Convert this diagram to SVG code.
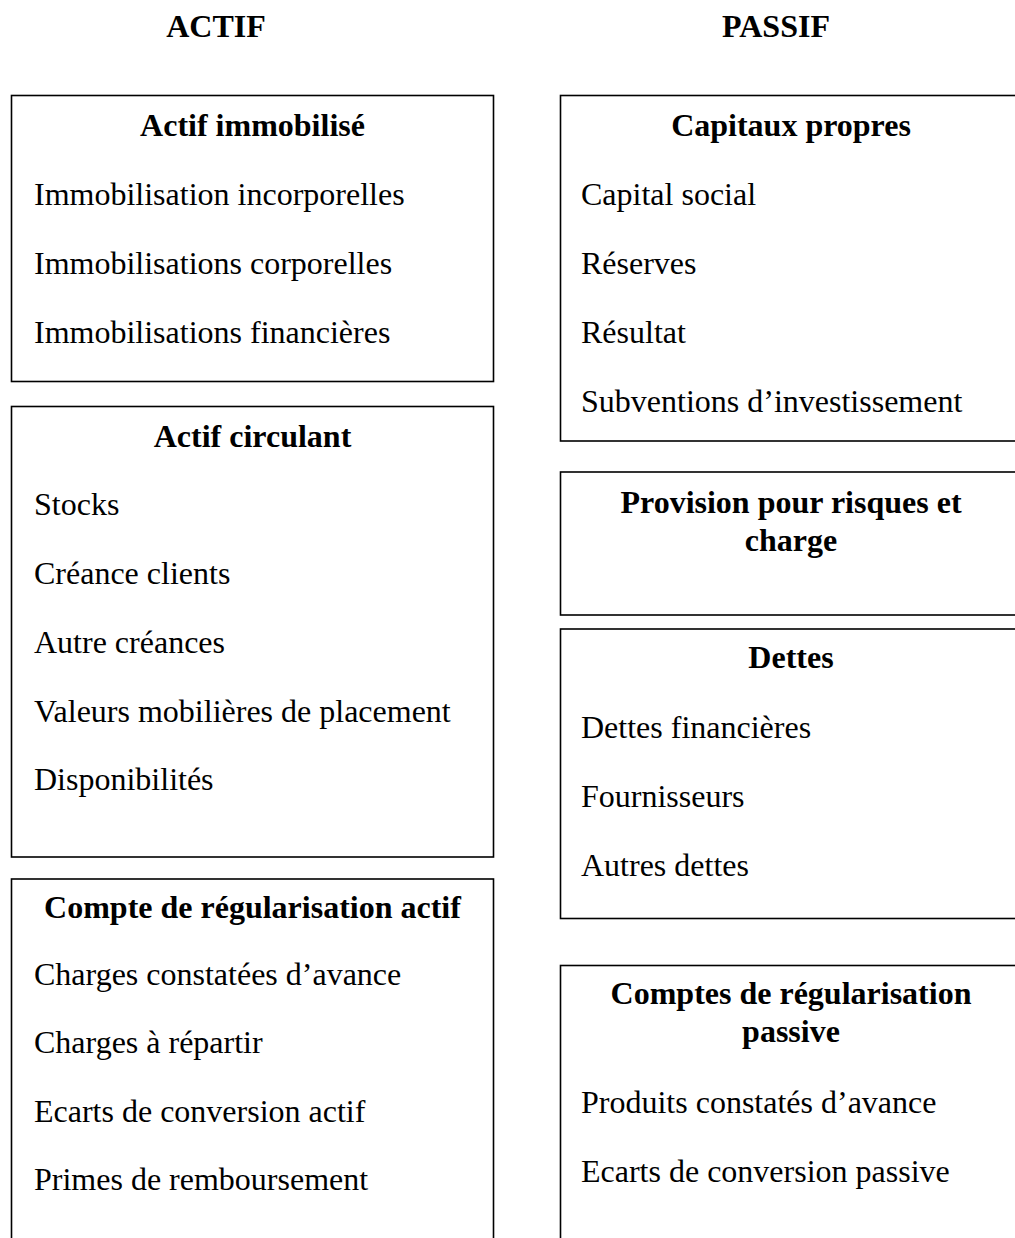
<svg xmlns="http://www.w3.org/2000/svg" width="1015" height="1238" viewBox="0 0 1015 1238">
<style>
  .box { fill: #ffffff; stroke: #000000; stroke-width: 1.6; }
  text { font-family: "Liberation Serif", "Times New Roman", serif; font-size: 32px; fill: #000000; }
  .h { font-weight: bold; text-anchor: middle; }
</style>
<rect x="0" y="0" width="1015" height="1238" fill="#ffffff"/>
<g id="titles">
  <text class="h" x="216" y="37">ACTIF</text>
  <text class="h" x="776" y="37">PASSIF</text>
</g>
<g id="connectors"></g>
<g id="actif-immobilise">
  <rect class="box" x="11.5" y="95.5" width="482" height="286"/>
  <text class="h" x="252.5" y="136">Actif immobilisé</text>
  <text x="34" y="205">Immobilisation incorporelles</text>
  <text x="34" y="274">Immobilisations corporelles</text>
  <text x="34" y="343">Immobilisations financières</text>
</g>
<g id="actif-circulant">
  <rect class="box" x="11.5" y="406.5" width="482" height="450.5"/>
  <text class="h" x="252.5" y="447">Actif circulant</text>
  <text x="34" y="515">Stocks</text>
  <text x="34" y="584">Créance clients</text>
  <text x="34" y="653">Autre créances</text>
  <text x="34" y="722">Valeurs mobilières de placement</text>
  <text x="34" y="790">Disponibilités</text>
</g>
<g id="regularisation-actif">
  <rect class="box" x="11.5" y="879" width="482" height="400"/>
  <text class="h" x="252.5" y="918">Compte de régularisation actif</text>
  <text x="34" y="985">Charges constatées d’avance</text>
  <text x="34" y="1053">Charges à répartir</text>
  <text x="34" y="1122">Ecarts de conversion actif</text>
  <text x="34" y="1190">Primes de remboursement</text>
</g>
<g id="capitaux-propres">
  <rect class="box" x="560.5" y="95.5" width="462" height="345.5"/>
  <text class="h" x="791" y="136">Capitaux propres</text>
  <text x="581" y="205">Capital social</text>
  <text x="581" y="274">Réserves</text>
  <text x="581" y="343">Résultat</text>
  <text x="581" y="412">Subventions d’investissement</text>
</g>
<g id="provision">
  <rect class="box" x="560.5" y="472" width="462" height="143"/>
  <text class="h" x="791" y="513">Provision pour risques et</text>
  <text class="h" x="791" y="551">charge</text>
</g>
<g id="dettes">
  <rect class="box" x="560.5" y="629" width="462" height="289.5"/>
  <text class="h" x="791" y="668">Dettes</text>
  <text x="581" y="738">Dettes financières</text>
  <text x="581" y="807">Fournisseurs</text>
  <text x="581" y="876">Autres dettes</text>
</g>
<g id="regularisation-passive">
  <rect class="box" x="560.5" y="965.5" width="462" height="320"/>
  <text class="h" x="791" y="1004">Comptes de régularisation</text>
  <text class="h" x="791" y="1042">passive</text>
  <text x="581" y="1113">Produits constatés d’avance</text>
  <text x="581" y="1182">Ecarts de conversion passive</text>
</g>
</svg>
